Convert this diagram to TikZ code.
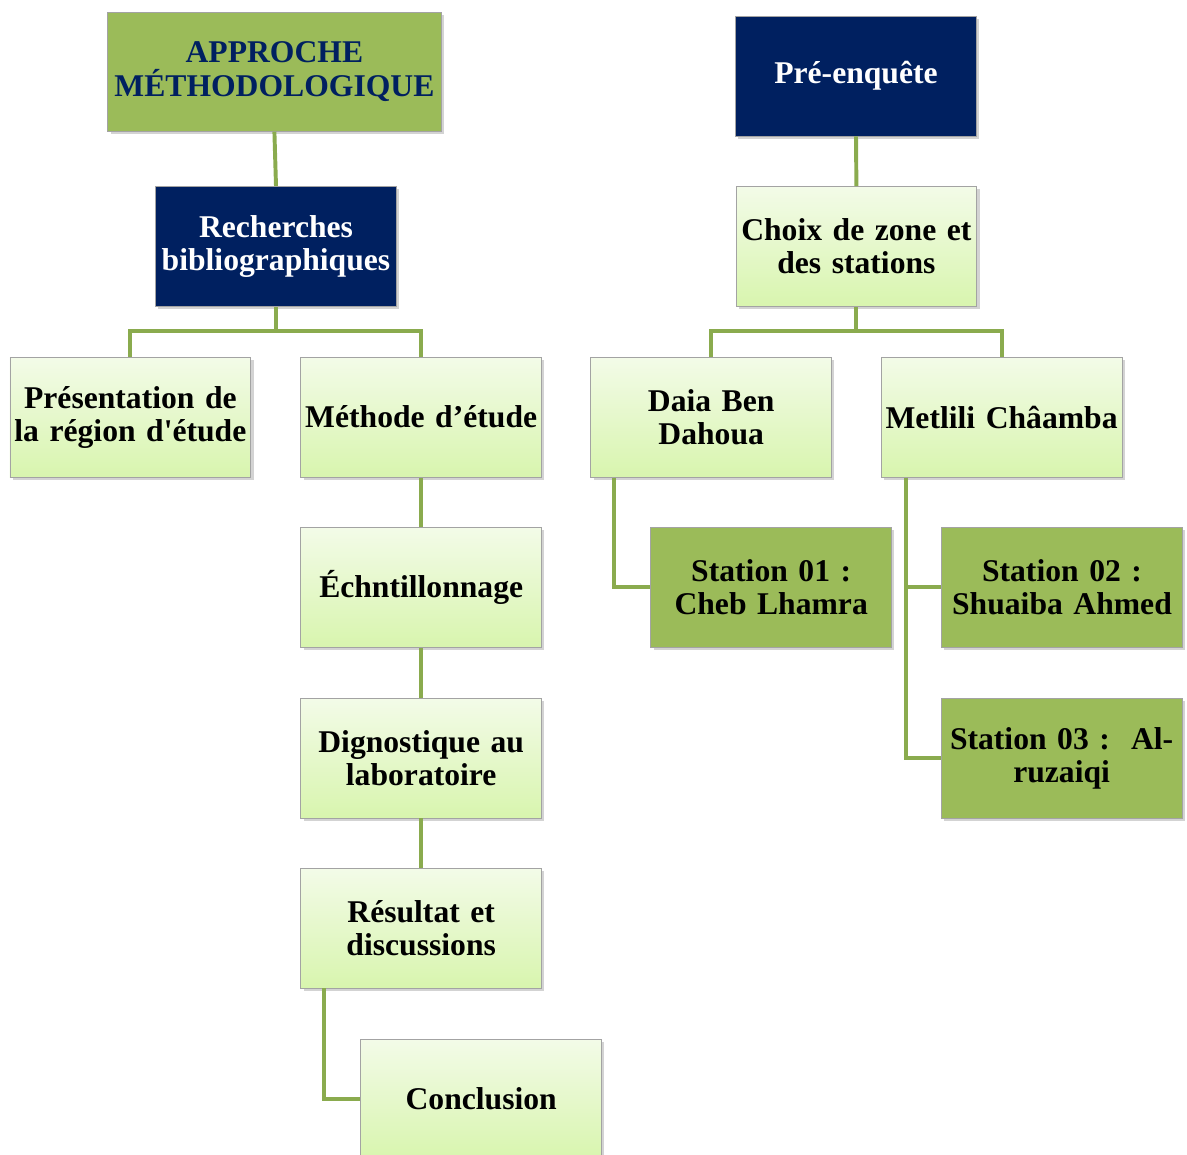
\documentclass[tikz,border=0pt]{standalone}
\usepackage{fontspec}
\setmainfont{Liberation Serif}[WordSpace=0.85]
\usepackage{xcolor}
\usetikzlibrary{positioning,calc,shadows}
\definecolor{cNavy}{HTML}{002060}
\definecolor{cOlive}{HTML}{9BBB59}
\definecolor{cLine}{HTML}{8AAB4E}
\definecolor{cTop}{HTML}{F3FBE8}
\definecolor{cBot}{HTML}{D8F5AE}
\definecolor{cEdge}{HTML}{A3A3A3}

\begin{document}
\begin{tikzpicture}[font=\fontsize{22.5}{23.5}\selectfont\bfseries,
  base/.style={draw=cEdge,line width=0.5pt,align=center,inner sep=1pt,
               text width=5.95cm,minimum width=6cm,minimum height=3cm,
               drop shadow={shadow xshift=2pt,shadow yshift=-2pt,opacity=0.35}},
  navy/.style={base,fill=cNavy,text=white},
  olive/.style={base,fill=cOlive},
  pale/.style={base,top color=cTop,bottom color=cBot},
  ln/.style={line width=2.8pt,cLine}]
\useasboundingbox (0,0) rectangle (29.675,-28.875);

% left tree
\node[olive,text=cNavy,text width=8.25cm,minimum width=8.33cm,minimum height=2.98cm]
  (app) at (6.86,-1.79) {APPROCHE\\MÉTHODOLOGIQUE};
\node[navy] (rech) at (6.9,-6.16) {Recherches\\bibliographiques};
\node[pale] (pres) at (3.26,-10.43) {Présentation de\\la région d\textquotesingle étude};
\node[pale] (meth) at (10.53,-10.43) {Méthode d’étude};
\node[pale] (ech)  at (10.53,-14.68) {Échntillonnage};
\node[pale] (dig)  at (10.53,-18.95) {Dignostique au\\laboratoire};
\node[pale] (res)  at (10.53,-23.2) {Résultat et\\discussions};
\node[pale] (conc) at (12.03,-27.48) {Conclusion};

% right tree
\node[navy] (pre)   at (21.4,-1.9) {Pré-enquête};
\node[pale] (choix) at (21.41,-6.16) {Choix de zone et\\des stations};
\node[pale] (daia)  at (17.78,-10.43) {Daia Ben\\Dahoua};
\node[pale] (metl)  at (25.04,-10.43) {Metlili Châamba};
\node[olive] (st1)  at (19.28,-14.68) {Station 01 :\\Cheb Lhamra};
\node[olive] (st2)  at (26.55,-14.68) {Station 02 :\\Shuaiba Ahmed};
\node[olive] (st3)  at (26.54,-18.95) {Station 03 :~~Al-\\ruzaiqi};

\draw[ln] (app.south) -- (rech.north);
\draw[ln] (rech.south) -- ++(0,-0.6) coordinate (rj);
\draw[ln] (pres.north) |- (rj) -| (meth.north);
\draw[ln] (meth.south) -- (ech.north);
\draw[ln] (ech.south) -- (dig.north);
\draw[ln] (dig.south) -- (res.north);
\draw[ln] ($(res.south west)+(0.6,0)$) |- (conc.west);

\draw[ln] (pre.south) -- (choix.north);
\draw[ln] (choix.south) -- ++(0,-0.6) coordinate (cj);
\draw[ln] (daia.north) |- (cj) -| (metl.north);
\draw[ln] ($(daia.south west)+(0.6,0)$) |- (st1.west);
\draw[ln] ($(metl.south west)+(0.62,0)$) |- (st3.west);
\draw[ln] ($(metl.south west)+(0.62,0)$) |- (st2.west);
\end{tikzpicture}
\end{document}
